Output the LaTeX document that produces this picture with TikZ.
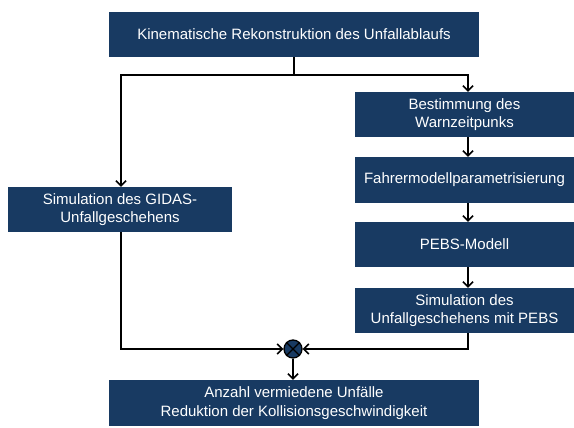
\documentclass[tikz,border=0pt]{standalone}
\usepackage{fontspec}
\setmainfont{Liberation Sans}
\usetikzlibrary{arrows.meta}
\definecolor{boxblue}{RGB}{24,58,98}
\tikzset{
  box/.style={draw=none, fill=boxblue, text=white, align=center,
    inner sep=0pt, font=\fontsize{15}{18.5}\selectfont},
  arr/.style={line width=1.6pt, -{Straight Barb[length=5pt,width=10pt,line width=1.6pt]}},
  ln/.style={line width=1.6pt},
  sum/.style={circle, draw=black, line width=1.3pt, fill=boxblue,
    minimum size=18pt, inner sep=0pt}
}
\begin{document}
\begin{tikzpicture}[x=1pt,y=-1pt]
\useasboundingbox (0,0) rectangle (574,428);
% main process boxes
\node[box, minimum width=370pt, minimum height=45pt] (top) at (294,34.5)
  {Kinematische Rekonstruktion des Unfallablaufs};
\node[box, minimum width=219pt, minimum height=45pt] (b1) at (464.5,114.5)
  {Bestimmung des\\Warnzeitpunks};
\node[box, minimum width=219pt, minimum height=46pt] (b2) at (464.5,180)
  {Fahrermodellparametrisierung};
\node[box, minimum width=219pt, minimum height=45pt] (b3) at (464.5,244.5)
  {PEBS-Modell};
\node[box, minimum width=219pt, minimum height=45pt] (b4) at (464.5,310.5)
  {Simulation des\\Unfallgeschehens mit PEBS};
\node[box, minimum width=224pt, minimum height=45pt] (left) at (120,209.5)
  {Simulation des GIDAS-\\Unfallgeschehens};
\node[box, minimum width=370pt, minimum height=46pt] (bottom) at (294,403)
  {Anzahl vermiedene Unfälle\\Reduktion der Kollisionsgeschwindigkeit};
% comparison junction
\node[sum] (c) at (293,349) {};
\draw[line width=1.2pt] (c.45) -- (c.225) (c.135) -- (c.315);
% connectors
\coordinate (j) at (294,75);
\coordinate (xr) at (468,0);
\coordinate (xl) at (121,0);
\draw[ln] (top.south -| j) -- (j);
\draw[arr] (j) -| (b1.north -| xr);
\draw[arr] (j) -| (left.north -| xl);
\draw[arr] (b1.south -| xr) -- (b2.north -| xr);
\draw[arr] (b2.south -| xr) -- (b3.north -| xr);
\draw[arr] (b3.south -| xr) -- (b4.north -| xr);
\draw[arr] (left.south -| xl) |- (c.west);
\draw[arr] (b4.south -| xr) |- (c.east);
\draw[arr] (c.south) -- (bottom.north -| c);
\end{tikzpicture}
\end{document}
